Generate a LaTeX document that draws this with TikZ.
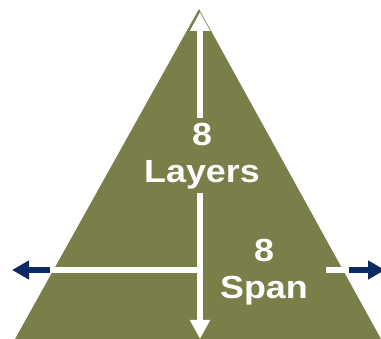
\documentclass[tikz,border=0pt]{standalone}
\usepackage{fontspec}
\setmainfont{Liberation Sans}
\newfontfamily\lblfont{Liberation Sans}[FakeStretch=1.12]
\usetikzlibrary{arrows.meta}
\definecolor{olive}{HTML}{7A7F4A}
\definecolor{navy}{HTML}{0B2A63}
\tikzset{
  whiteline/.style={draw=white, line width=6pt},
  navyarrow/.style={draw=navy, line width=6pt, -{Triangle[width=18pt,length=17pt]}},
  axisarrow/.style={draw=white, line width=5.5pt, -{Triangle[width=19pt,length=19pt]}},
  biglabel/.style={text=white, align=center, inner sep=4pt,
    font=\lblfont\bfseries\fontsize{32}{36.5}\selectfont},
}
\begin{document}
\begin{tikzpicture}[x=1pt,y=-1pt]
  \useasboundingbox (0,0) rectangle (381,339);
  % pyramid
  \coordinate (apex) at (199,9);
  \coordinate (bl) at (15,339);
  \coordinate (br) at (381,339);
  \fill[olive] (apex) -- (br) -- (bl) -- cycle;
  % labels
  \node[biglabel] (layers) at (202,156) {8\\Layers};
  \node[biglabel] (span) at (264,272) {8\\Span};
  % vertical axis, split around the upper label
  \coordinate (vtop) at (200,12);
  \coordinate (vbot) at (200,339);
  \coordinate (vup) at (200,118);
  \coordinate (vdown) at (200,193);
  \draw[axisarrow] (vup) -- (vtop);
  \draw[axisarrow] (vdown) -- (vbot);
  % horizontal axis, left part
  \coordinate (hmid) at (203,270);
  \coordinate (hleft) at (50,270);
  \coordinate (ltip) at (12,270);
  \draw[whiteline] (hmid) -- (hleft);
  \draw[navyarrow] (hleft) -- (ltip);
  % horizontal axis, right part
  \coordinate (rstart) at (326,270);
  \coordinate (rmid) at (349,270);
  \coordinate (rtip) at (385,270);
  \draw[whiteline] (rstart) -- (rmid);
  \draw[navyarrow] (rmid) -- (rtip);
\end{tikzpicture}
\end{document}
